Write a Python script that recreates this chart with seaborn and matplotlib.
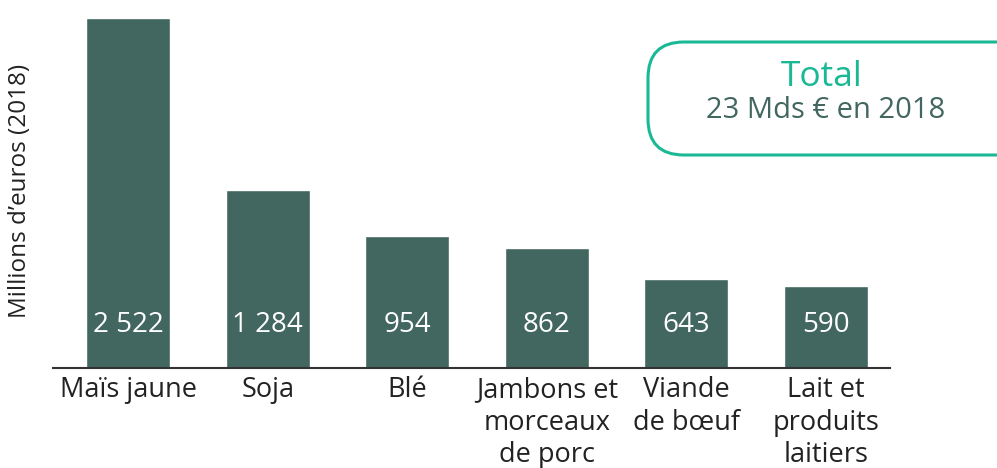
import matplotlib
matplotlib.use("Agg")
import matplotlib.pyplot as plt
from matplotlib.patches import FancyBboxPatch
from matplotlib.transforms import IdentityTransform
import seaborn as sns
import pandas as pd

categories = ["Maïs jaune", "Soja", "Blé", "Jambons et\nmorceaux\nde porc",
              "Viande\nde bœuf", "Lait et\nproduits\nlaitiers"]
values = [2522, 1284, 954, 862, 643, 590]
value_labels = ["2 522", "1 284", "954", "862", "643", "590"]
ylabel = "Millions d’euros (2018)"
box_title = "Total"
box_text = "23 Mds € en 2018"

BAR = "#426660"
GREEN = "#1ab996"
TXT = "#222222"

sns.set_theme(style="white")
plt.rcParams["font.family"] = ["Open Sans", "DejaVu Sans"]

W, H = 997, 468
fig = plt.figure(figsize=(W / 100, H / 100), dpi=100)
ax = fig.add_axes([53 / W, (H - 368) / H, 837 / W, 350 / H])

df = pd.DataFrame({"cat": categories, "val": values})
sns.barplot(data=df, x="cat", y="val", color=BAR, saturation=1, width=0.6, ax=ax)

ax.set_xlim(-0.54, 5.46)
ax.set_ylim(0, max(values))
for s in ["left", "right", "top"]:
    ax.spines[s].set_visible(False)
ax.spines["bottom"].set_color("#333333")
ax.spines["bottom"].set_linewidth(1.5)
ax.set_yticks([])
ax.set_xlabel("")
ax.set_ylabel("")
ax.tick_params(axis="x", length=0, pad=6)
for lab in ax.get_xticklabels():
    lab.set_fontsize(19.5)
    lab.set_color(TXT)
    lab.set_linespacing(1.2)
    lab.set_verticalalignment("top")

for i, t in enumerate(value_labels):
    ax.text(i, 310, t, ha="center", va="center", color="white", fontsize=20)

fig.text(20 / W, (H - 191) / H, ylabel, rotation=90, ha="center", va="center",
         fontsize=17.5, color=TXT)

box = FancyBboxPatch((648, H - 155), 390, 113,
                     boxstyle="round,pad=0,rounding_size=36",
                     transform=IdentityTransform(), facecolor="white",
                     edgecolor=GREEN, linewidth=2.2)
fig.add_artist(box)
fig.text(822 / W, (H - 77) / H, box_title, ha="center", va="center",
         fontsize=25.5, color=GREEN)
fig.text(826 / W, (H - 110) / H, box_text, ha="center", va="center",
         fontsize=21, color=BAR)

fig.savefig("out.png", dpi=100)
